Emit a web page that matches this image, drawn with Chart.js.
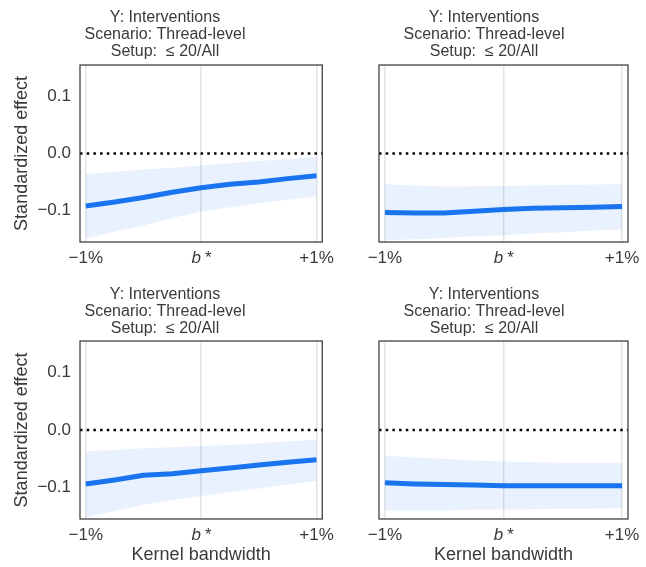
<!DOCTYPE html>
<html>
<head>
<meta charset="utf-8">
<script src="https://cdn.jsdelivr.net/npm/chart.js@4/dist/chart.umd.min.js"></script>
<style>
body { margin: 0; background: #fff; width: 646px; height: 567px; position: relative; overflow: hidden; }
.panel { position: absolute; }
</style>
</head>
<body>
<div class="panel" style="left:0;top:0;width:340px;height:280px"><canvas id="c0"></canvas></div>
<div class="panel" style="left:340px;top:0;width:306px;height:280px"><canvas id="c1"></canvas></div>
<div class="panel" style="left:0;top:280px;width:340px;height:287px"><canvas id="c2"></canvas></div>
<div class="panel" style="left:340px;top:280px;width:306px;height:287px"><canvas id="c3"></canvas></div>
<script>
// bandwidth grid (-1% .. b* .. +1%)
var xs = [-1, -0.75, -0.5, -0.25, 0, 0.25, 0.5, 0.75, 1];
var xTicks = [-1, 0, 1];
var xTickLabels = ['\u22121%', 'b\u2009*', '+1%'];
var yTicks = [-0.1, 0, 0.1];
var yTickLabels = ['\u22120.1', '0.0', '0.1'];
var titleLines = ['Y: Interventions', 'Scenario: Thread-level', 'Setup:  \u2264 20/All'];

// top left
var tlMean = [-0.092, -0.085, -0.077, -0.068, -0.060, -0.054, -0.050, -0.044, -0.039];
var tlUpper = [-0.036, -0.032, -0.028, -0.025, -0.021, -0.017, -0.013, -0.010, -0.006];
var tlLower = [-0.149, -0.137, -0.126, -0.113, -0.102, -0.094, -0.087, -0.081, -0.075];
// top right
var trMean = [-0.1035, -0.104, -0.104, -0.101, -0.098, -0.096, -0.095, -0.094, -0.093];
var trUpper = [-0.054, -0.056, -0.058, -0.0575, -0.057, -0.056, -0.055, -0.0545, -0.054];
var trLower = [-0.152, -0.150, -0.148, -0.145, -0.143, -0.140, -0.138, -0.135, -0.133];
// bottom left
var blMean = [-0.094, -0.087, -0.079, -0.076, -0.071, -0.066, -0.061, -0.056, -0.052];
var blUpper = [-0.037, -0.035, -0.032, -0.030, -0.028, -0.026, -0.023, -0.020, -0.017];
var blLower = [-0.152, -0.141, -0.130, -0.122, -0.115, -0.108, -0.102, -0.095, -0.089];
// bottom right
var brMean = [-0.092, -0.094, -0.095, -0.096, -0.097, -0.097, -0.097, -0.097, -0.097];
var brUpper = [-0.045, -0.048, -0.050, -0.053, -0.055, -0.056, -0.057, -0.057, -0.057];
var brLower = [-0.140, -0.140, -0.140, -0.139, -0.139, -0.138, -0.137, -0.137, -0.136];

var FONT = '"Liberation Sans", Arial, sans-serif';
var TEXT = '#3a3a3a';
var BLUE = '#1a74f0';

function pts(vals) {
    return vals.map(function (v, i) { return { x: xs[i], y: v }; });
}

var framePlugin = {
    id: 'frame',
    beforeDatasetsDraw: function (chart) {
        var ctx = chart.ctx, a = chart.chartArea;
        var y0 = chart.scales.y.getPixelForValue(0);
        ctx.save();
        ctx.strokeStyle = '#000';
        ctx.lineWidth = 2.5;
        ctx.setLineDash([2.5, 4.2]);
        ctx.beginPath();
        ctx.moveTo(a.left, y0);
        ctx.lineTo(a.right, y0);
        ctx.stroke();
        ctx.restore();
    },
    afterDraw: function (chart) {
        var ctx = chart.ctx, a = chart.chartArea;
        ctx.save();
        ctx.strokeStyle = '#3a3a3a';
        ctx.lineWidth = 1.25;
        ctx.strokeRect(a.left, a.top, a.right - a.left, a.bottom - a.top);
        ctx.restore();
    }
};

function makePanel(id, mean, upper, lower, isLeft, isBottom) {
    var ctx = document.getElementById(id);
    new Chart(ctx, {
        type: 'line',
        data: {
            datasets: [
                { data: pts(lower), borderWidth: 0, pointRadius: 0, fill: false },
                { data: pts(upper), borderWidth: 0, pointRadius: 0, fill: '-1', backgroundColor: 'rgba(26,116,240,0.1)' },
                { data: pts(mean), borderColor: BLUE, borderWidth: 5, pointRadius: 0, fill: false, borderCapStyle: 'butt' }
            ]
        },
        options: {
            responsive: true,
            maintainAspectRatio: false,
            animation: false,
            events: [],
            layout: { padding: { left: 0, right: isLeft ? 10 : 18, top: 0, bottom: 0 } },
            plugins: {
                legend: { display: false },
                tooltip: { enabled: false },
                title: {
                    display: true,
                    text: titleLines,
                    color: TEXT,
                    font: { family: FONT, size: 16, weight: 'normal', lineHeight: 1.05 },
                    padding: isBottom ? { top: 6.6, bottom: 4 } : { top: 9.6, bottom: 5 }
                }
            },
            scales: {
                x: {
                    type: 'linear',
                    min: -1.05,
                    max: 1.05,
                    afterBuildTicks: function (s) { s.ticks = xTicks.map(function (v) { return { value: v }; }); },
                    afterFit: function (s) { s.height = isBottom ? 48 : 38; },
                    grid: { display: true, color: '#e3e3e3', lineWidth: 1.5, drawTicks: false },
                    border: { display: false },
                    ticks: {
                        padding: 6,
                        color: TEXT,
                        maxRotation: 0,
                        autoSkip: false,
                        font: function (c) {
                            return { family: FONT, size: 17, style: (c.tick && c.tick.value === 0) ? 'italic' : 'normal' };
                        },
                        callback: function (v) { return xTickLabels[xTicks.indexOf(v)]; }
                    },
                    title: {
                        display: isBottom,
                        text: 'Kernel bandwidth',
                        color: TEXT,
                        font: { family: FONT, size: 18 },
                        padding: { top: 0, bottom: 1.2 }
                    }
                },
                y: {
                    min: -0.155,
                    max: 0.155,
                    afterBuildTicks: function (s) { s.ticks = yTicks.map(function (v) { return { value: v }; }); },
                    afterFit: function (s) { s.width = isLeft ? 80 : 39; },
                    grid: { display: false, drawTicks: false },
                    border: { display: false },
                    ticks: {
                        display: isLeft,
                        padding: 9,
                        color: TEXT,
                        font: { family: FONT, size: 17 },
                        callback: function (v) { return yTickLabels[yTicks.indexOf(v)]; }
                    },
                    title: {
                        display: isLeft,
                        text: 'Standardized effect',
                        color: TEXT,
                        font: { family: FONT, size: 18 },
                        padding: { top: 11, bottom: 0 }
                    }
                }
            }
        },
        plugins: [framePlugin]
    });
}

makePanel('c0', tlMean, tlUpper, tlLower, true, false);
makePanel('c1', trMean, trUpper, trLower, false, false);
makePanel('c2', blMean, blUpper, blLower, true, true);
makePanel('c3', brMean, brUpper, brLower, false, true);
</script>
</body>
</html>
